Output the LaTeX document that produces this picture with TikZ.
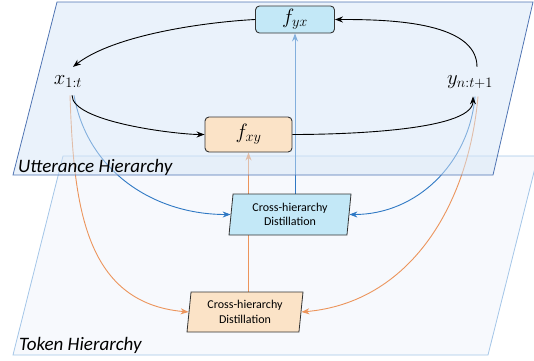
\documentclass[tikz,border=0pt]{standalone}
\usepackage{fontspec}
\setsansfont{Carlito}
\usetikzlibrary{positioning, arrows.meta, shapes.geometric, backgrounds}
\definecolor{PlaneTop}{HTML}{D6E6F7}
\definecolor{PlaneTopLine}{HTML}{4F74B3}
\definecolor{PlaneLow}{HTML}{F7F9FD}
\definecolor{PlaneLowLine}{HTML}{A4C6E8}
\definecolor{Sky}{HTML}{C3E8F7}
\definecolor{Peach}{HTML}{FBE3C7}
\definecolor{BlueLine}{HTML}{2E78C4}
\definecolor{OrangeLine}{HTML}{EC955C}
\definecolor{Edge}{HTML}{333333}
\tikzset{
    fbox/.style={rectangle, rounded corners=4pt, draw=Edge, line width=0.9pt, font=\fontsize{20}{24}\selectfont},
    distbox/.style={trapezium, trapezium left angle=80, trapezium right angle=100, trapezium stretches body, draw=Edge, line width=0.8pt, align=center, font=\sffamily\fontsize{12}{14.5}\selectfont, minimum width=122pt, minimum height=41pt, inner sep=0pt},
    varlabel/.style={inner xsep=0pt, inner ysep=8pt, anchor=base, font=\fontsize{20}{24}\selectfont},
    planelabel/.style={anchor=base west, inner sep=0pt, font=\sffamily\itshape\fontsize{19}{22}\selectfont},
    arrow/.style={-{Stealth[length=8pt,width=6pt]}, line width=0.9pt, color=black},
    bluearrow/.style={arrow, color=BlueLine},
    orangearrow/.style={arrow, color=OrangeLine},
}
\begin{document}
\begin{tikzpicture}[x=1pt, y=1pt]
    \useasboundingbox (0,0) rectangle (534,360);
    % variables and mappings
    \node[varlabel] (x) at (68,276) {$x_{1:t}$};
    \node[varlabel] (y) at (470,276) {$y_{n:t+1}$};
    \node[fbox, fill=Sky, minimum width=79pt, minimum height=27pt] (fyx) at (295,340.5) {$f_{yx}$};
    \node[fbox, fill=Peach, minimum width=87pt, minimum height=35pt] (fxy) at (248.5,225.5) {$f_{xy}$};
    % distillation boxes
    \node[distbox, fill=Sky] (dup) at (290,145.5) {Cross-hierarchy\\Distillation};
    \node[distbox, fill=Peach, minimum width=116pt, minimum height=40pt] (dlow) at (245,48) {Cross-hierarchy\\Distillation};

    \draw[arrow] ([xshift=7pt]y.north) to[out=90, in=0, looseness=0.8] (fyx.east);
    \draw[arrow] (fyx.west) to[out=183, in=38, looseness=0.7] ([xshift=5pt]x.north);
    \draw[arrow] ([xshift=4pt]x.south) to[out=-90, in=180, looseness=0.5] (fxy.west);
    \draw[arrow] (fxy.east) to[out=0, in=-90, looseness=0.5] ([xshift=3pt]y.south);

    \begin{scope}[on background layer]
        % token plane
        \fill[PlaneLow] (13,5) -- (63,204) -- (538,204) -- (488,5) -- cycle;
        \draw[PlaneLowLine, line width=0.8pt] (13,5) -- (63,204) -- (538,204) -- (488,5) -- cycle;
        \draw[bluearrow] ([xshift=6pt]x.south) to[out=-80, in=180] (dup.west);
        \draw[bluearrow] ([xshift=5pt]y.south) to[out=-95, in=0] (dup.east);
        \draw[bluearrow] (dup.north -| fyx.south) -- (fyx.south);
        \draw[orangearrow] ([xshift=2pt]x.south) to[out=-88, in=175, looseness=1.1] (dlow.west);
        \draw[orangearrow] ([xshift=8pt]y.south) to[out=-95, in=5] (dlow.east);
        \draw[orangearrow] (dlow.north -| fxy.south) -- (fxy.south);
        % utterance plane
        \fill[PlaneTop, fill opacity=0.5] (13,185) -- (57,358) -- (533,358) -- (493,185) -- cycle;
        \draw[PlaneTopLine, line width=0.8pt] (13,185) -- (57,358) -- (533,358) -- (493,185) -- cycle;
    \end{scope}

    \node[planelabel] (utt) at (18,188) {Utterance Hierarchy};
    \node[planelabel] (tok) at (19,10) {Token Hierarchy};
\end{tikzpicture}
\end{document}
